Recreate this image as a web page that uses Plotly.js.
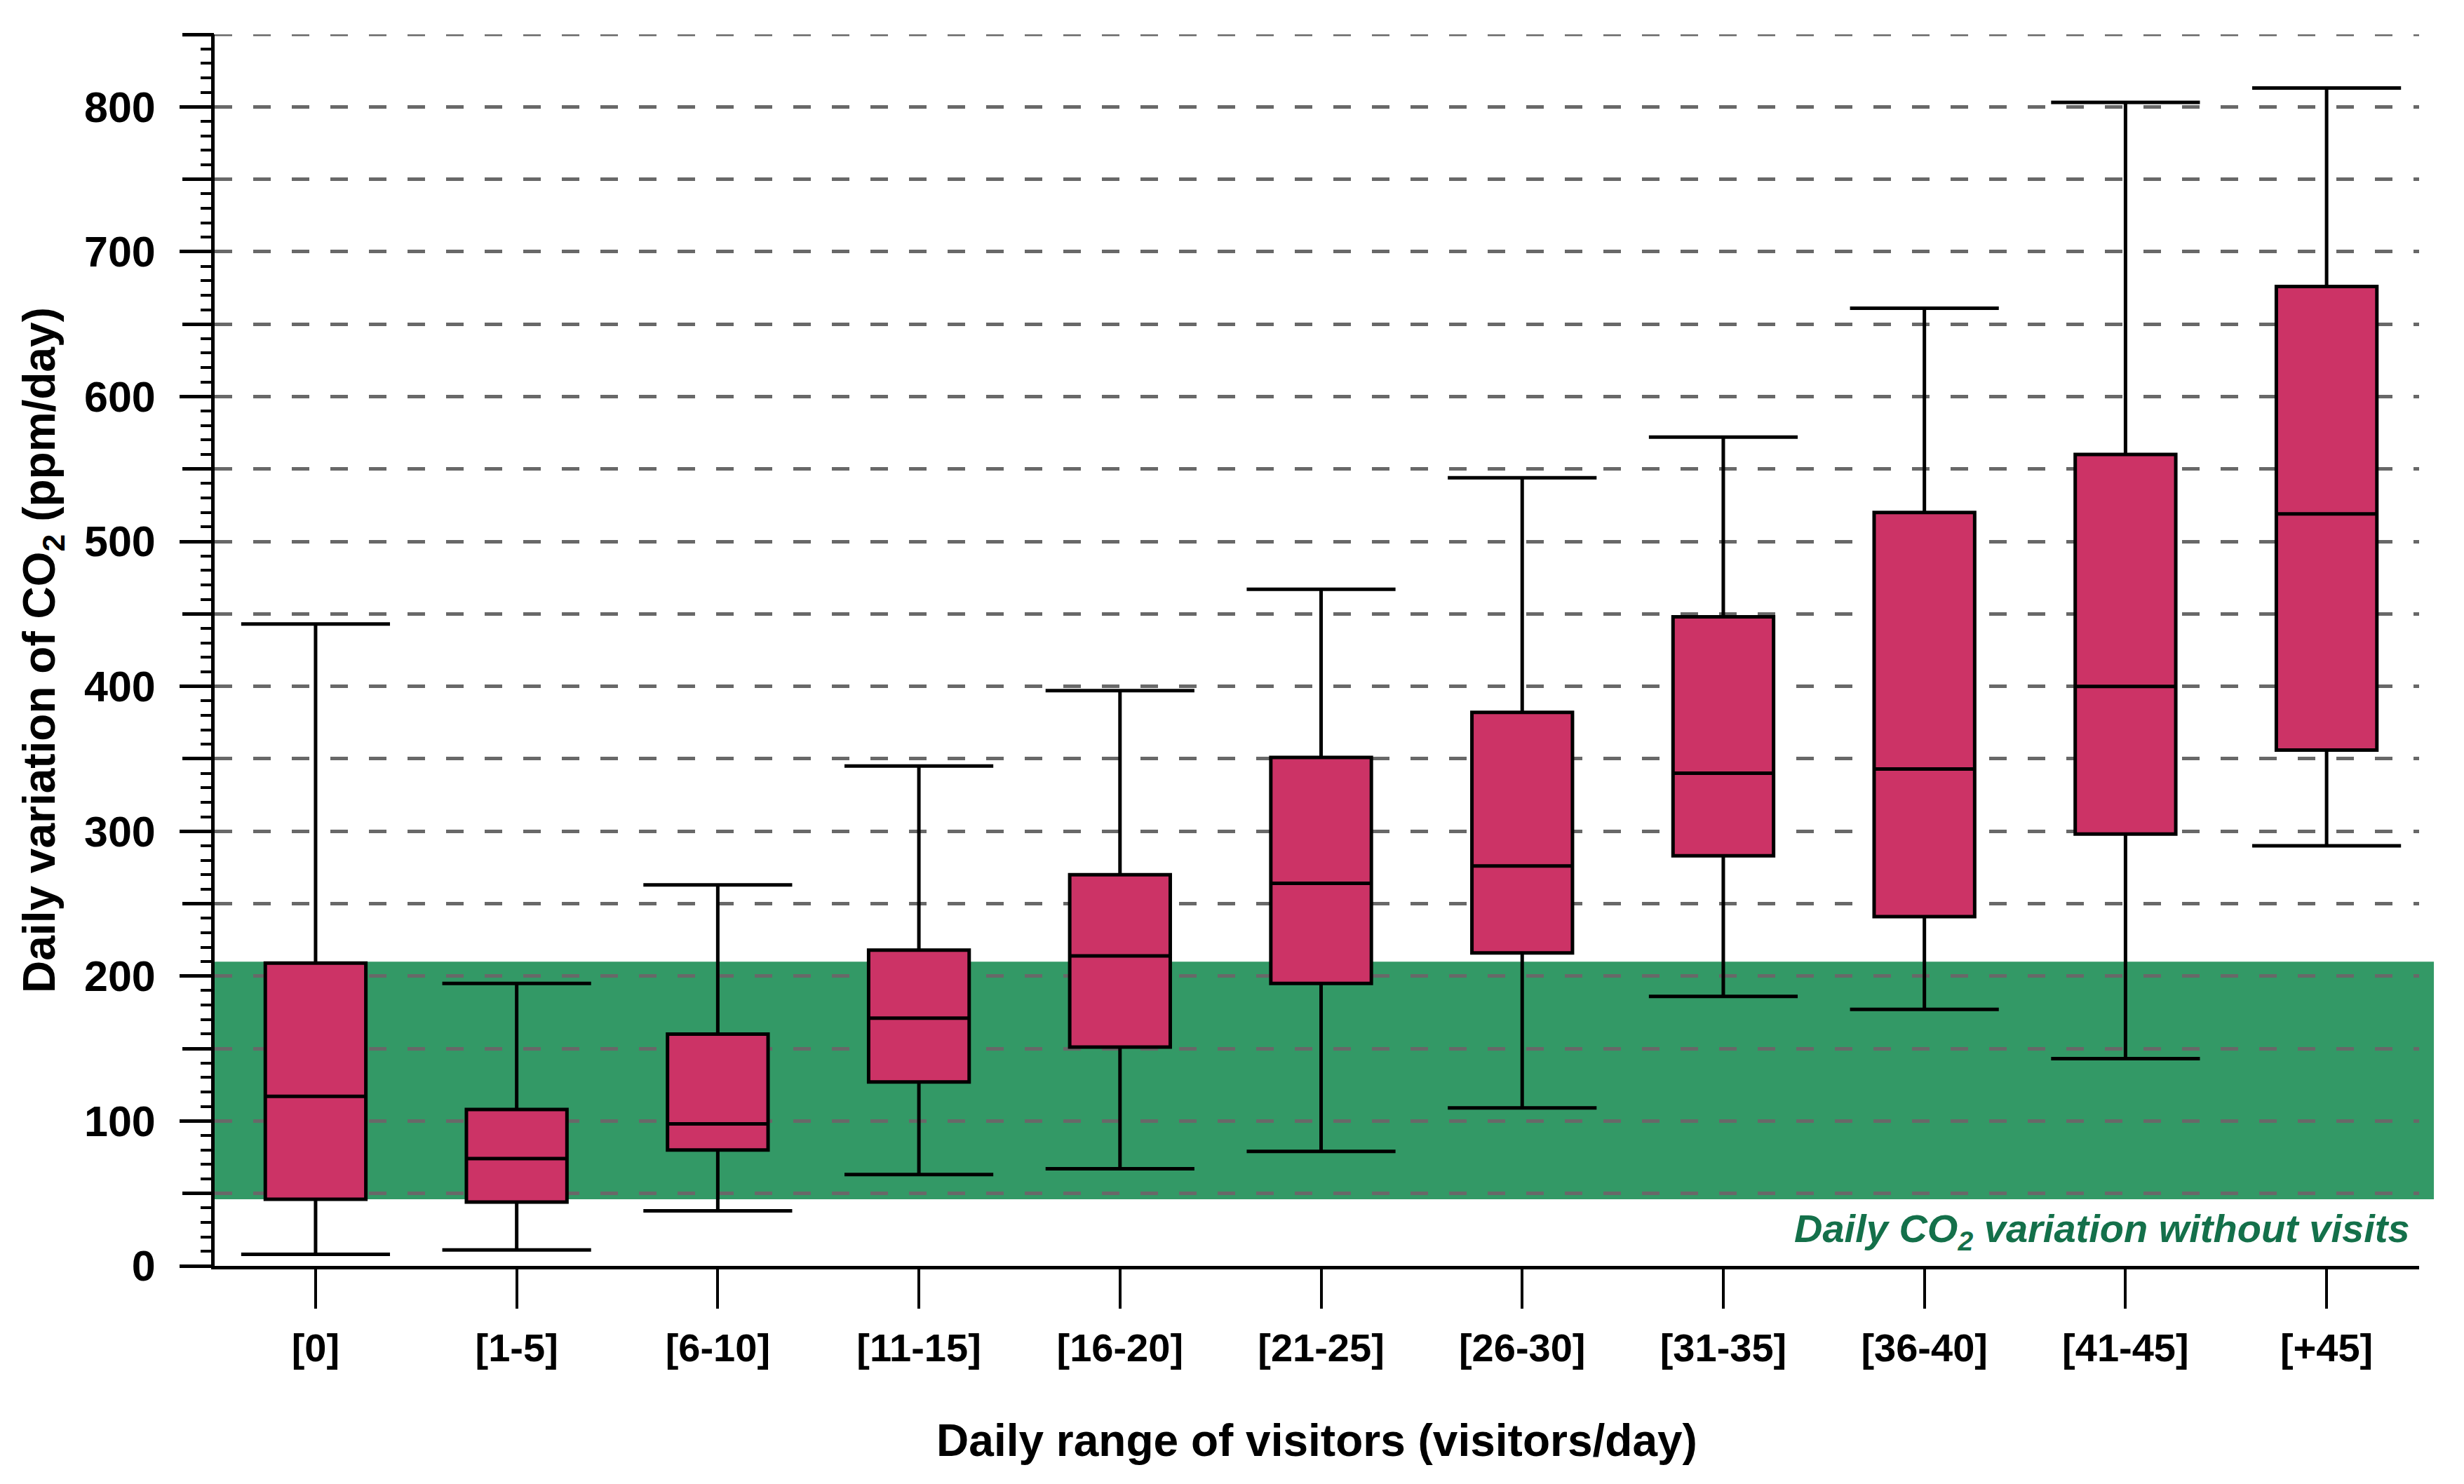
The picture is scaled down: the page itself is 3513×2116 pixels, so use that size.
<!DOCTYPE html>
<html>
<head>
<meta charset="utf-8">
<script src="https://cdn.plot.ly/plotly-3.0.1.min.js"></script>
<style>html,body{margin:0;padding:0;background:#fff;}#chart{width:3513px;height:2116px;}</style>
</head>
<body>
<div id="chart"></div>
<script>
// Data
const categories = ["[0]","[1-5]","[6-10]","[11-15]","[16-20]","[21-25]","[26-30]","[31-35]","[36-40]","[41-45]","[+45]"];
const lowerWhisker = [8, 11, 38, 63, 67, 79, 109, 186, 177, 143, 290];
const q1Values     = [46, 44, 80, 127, 151, 195, 216, 283, 241, 298, 356];
const medianValues = [117, 74, 98, 171, 214, 264, 276, 340, 343, 400, 519];
const q3Values     = [209, 108, 160, 218, 270, 351, 382, 448, 520, 560, 676];
const upperWhisker = [443, 195, 263, 345, 397, 467, 544, 572, 661, 803, 813];
const noVisitBand  = [46, 210];
const yLabelVals = [0,100,200,300,400,500,600,700,800];
const yLabelText = ["0","100","200","300","400","500","600","700","800"];
const yHalfVals  = [50,150,250,350,450,550,650,750,850];
const yMax = 850;

const xPos = categories.map((c, i) => i);
const capHalf = 0.37;
const capX = [], capY = [];
xPos.forEach((x, i) => {
  capX.push(x - capHalf, x + capHalf, null, x - capHalf, x + capHalf, null);
  capY.push(upperWhisker[i], upperWhisker[i], null, lowerWhisker[i], lowerWhisker[i], null);
});

const font = "Arial, 'Liberation Sans', sans-serif";
const gridDash = '25px,30px';
const gridColor = '#686868';

const traces = [
  {
    type: 'box',
    x: xPos,
    q1: q1Values,
    median: medianValues,
    q3: q3Values,
    lowerfence: lowerWhisker,
    upperfence: upperWhisker,
    width: 0.5,
    whiskerwidth: 0,
    fillcolor: '#cc3366',
    line: {color: '#000000', width: 5},
    boxpoints: false,
    hoverinfo: 'skip',
    showlegend: false
  },
  {
    type: 'scatter',
    mode: 'lines',
    x: capX,
    y: capY,
    yaxis: 'y2',
    line: {color: '#000000', width: 5},
    hoverinfo: 'skip',
    showlegend: false
  }
];

const layout = {
  width: 3513,
  height: 2116,
  paper_bgcolor: '#ffffff',
  plot_bgcolor: 'rgba(0,0,0,0)',
  margin: {l: 306, r: 64, t: 49, b: 311},
  showlegend: false,
  font: {family: font, color: '#000000'},
  xaxis: {
    range: [-0.502, 10.46],
    tickmode: 'array',
    tickvals: xPos,
    ticktext: categories,
    ticks: 'outside',
    ticklen: 56,
    tickwidth: 4,
    tickcolor: '#000000',
    ticklabelstandoff: 8,
    tickfont: {family: font, size: 56, weight: 'bold', color: '#000000'},
    showline: true,
    linecolor: '#000000',
    linewidth: 5,
    showgrid: false,
    zeroline: false,
    automargin: false,
    title: {text: 'Daily range of visitors (visitors/day)', font: {family: font, size: 64, weight: 'bold', color: '#000000'}, standoff: 80}
  },
  yaxis: {
    range: [0, yMax],
    tickmode: 'array',
    tickvals: yLabelVals,
    ticktext: yLabelText,
    ticks: 'outside',
    ticklen: 45,
    tickwidth: 5,
    tickcolor: '#000000',
    ticklabelstandoff: 22,
    tickfont: {family: font, size: 61, weight: 'bold', color: '#000000'},
    minor: {tickmode: 'linear', tick0: 0, dtick: 10, ticks: 'outside', ticklen: 15, tickwidth: 4, tickcolor: '#000000', showgrid: false},
    showline: true,
    linecolor: '#000000',
    linewidth: 5,
    showgrid: true,
    gridcolor: gridColor,
    gridwidth: 5,
    griddash: gridDash,
    zeroline: false,
    automargin: false,
    title: {text: 'Daily variation of CO<sub>2</sub> (ppm/day)', font: {family: font, size: 64, weight: 'bold', color: '#000000'}, standoff: 22}
  },
  yaxis2: {
    overlaying: 'y',
    anchor: 'x',
    side: 'left',
    range: [0, yMax],
    tickmode: 'array',
    tickvals: yHalfVals,
    showticklabels: false,
    ticks: 'outside',
    ticklen: 45,
    tickwidth: 5,
    tickcolor: '#000000',
    showline: false,
    showgrid: true,
    gridcolor: gridColor,
    gridwidth: 5,
    griddash: gridDash,
    zeroline: false,
    automargin: false
  },
  shapes: [
    {
      type: 'rect',
      xref: 'paper', yref: 'y',
      x0: 0, x1: 1.0067,
      y0: noVisitBand[0], y1: noVisitBand[1],
      fillcolor: '#339966',
      line: {width: 0},
      layer: 'below'
    },
    {
      type: 'line',
      xref: 'paper', yref: 'y',
      x0: 0, x1: 1,
      y0: yMax, y1: yMax,
      line: {color: gridColor, width: 5, dash: gridDash},
      layer: 'below'
    }
  ],
  annotations: [
    {
      xref: 'paper', yref: 'y',
      x: 0.9965, y: 24,
      xanchor: 'right', yanchor: 'middle',
      showarrow: false,
      text: '<i>Daily CO<sub>2</sub> variation without visits</i>',
      font: {family: font, size: 56, weight: 'bold', style: 'italic', color: '#14704a'}
    }
  ]
};

Plotly.newPlot('chart', traces, layout, {staticPlot: true, displayModeBar: false});
</script>
</body>
</html>
